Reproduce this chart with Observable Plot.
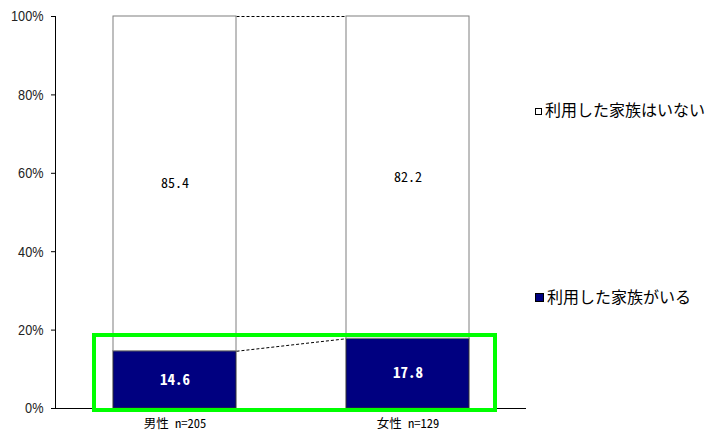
<!DOCTYPE html>
<html>
<head>
<meta charset="utf-8">
<script src="https://cdn.jsdelivr.net/npm/d3@7"></script>
<script src="https://cdn.jsdelivr.net/npm/@observablehq/plot@0.6"></script>
<style>
  body { margin: 0; background: #fff; }
  #wrap { position: relative; width: 709px; height: 435px; overflow: hidden; }
  .legend { position: absolute; left: 535px; font-family: "Noto Sans CJK JP", sans-serif; font-size: 16px; line-height: 16px; color: #000; white-space: nowrap; z-index: 2; }
  .sw { display: inline-block; border: 1px solid #000; box-sizing: border-box; margin-right: 3px; vertical-align: 1px; }
  #hl { position: absolute; left: 92px; top: 333px; width: 405px; height: 79px; border: 4px solid #00ff00; box-sizing: border-box; z-index: 3; }
  svg [aria-label^="x-axis"] text { font-family: "Noto Sans Mono CJK JP", "Noto Sans CJK JP", "DejaVu Sans Mono", monospace !important; font-size: 12.5px !important; fill: #000 !important; }
  svg [aria-label^="y-axis"] text { font-family: "Liberation Sans Narrow", "Arial Narrow", "Liberation Sans", sans-serif !important; font-size: 15.5px !important; fill: #222 !important; }
</style>
</head>
<body>
<div id="wrap"></div>
<script>
const categories = ["男性 n=205", "女性 n=129"];
const usedValues = [14.6, 17.8];        // 利用した家族がいる
const notUsedValues = [85.4, 82.2];     // 利用した家族はいない
const seriesNames = ["利用した家族はいない", "利用した家族がいる"];
const yTicks = [0, 20, 40, 60, 80, 100];

const mono = '"Noto Sans Mono CJK JP", "Noto Sans CJK JP", "DejaVu Sans Mono", monospace';

const rows = categories.map((c, i) => ({cat: c, used: usedValues[i], notUsed: notUsedValues[i]}));
const links = [
  {a: categories[0], b: categories[1], ya: usedValues[0], yb: usedValues[1]},
  {a: categories[0], b: categories[1], ya: usedValues[0] + notUsedValues[0], yb: usedValues[1] + notUsedValues[1]}
];

// move link ends from band centers to the facing bar edges
function edgeRender(index, scales, values, dimensions, context, next) {
  const x = scales.x;
  const bw = typeof x.bandwidth === "function" ? x.bandwidth() : x.bandwidth;
  const v = Object.assign({}, values, {
    x1: Array.from(values.x1, d => d + bw / 2),
    x2: Array.from(values.x2, d => d - bw / 2)
  });
  return next(index, scales, v, dimensions, context);
}

const chart = Plot.plot({
  width: 709,
  height: 435,
  marginLeft: 55,
  marginRight: 183,
  marginTop: 16,
  marginBottom: 27,
  style: {background: "white", color: "#000", fontSize: "15px", overflow: "visible"},
  x: {domain: categories, paddingInner: 0.474, paddingOuter: 0.2436, align: 0.5, label: null, tickSize: 0, tickPadding: 11},
  y: {domain: [0, 100], ticks: yTicks, tickFormat: d => d + "%", tickSize: 4, tickPadding: 8, label: null, line: true},
  marks: [
    Plot.link(links, {x1: "a", x2: "b", y1: "ya", y2: "yb", stroke: "#000", strokeWidth: 1, strokeDasharray: "3,2", render: edgeRender}),
    Plot.barY(rows, {x: "cat", y1: 0, y2: "used", fill: "#000080", stroke: "#333", strokeWidth: 1}),
    Plot.barY(rows, {x: "cat", y1: "used", y2: d => d.used + d.notUsed, fill: "#fff", stroke: "#7f7f7f", strokeWidth: 1}),
    Plot.ruleY([0], {stroke: "#000", strokeWidth: 1}),
    Plot.text(rows, {x: "cat", y: d => d.used / 2, text: d => d.used.toFixed(1), fill: "#fff", fontWeight: "bold", fontSize: 15, fontFamily: mono}),
    Plot.text(rows, {x: "cat", y: d => d.used + d.notUsed / 2, text: d => d.notUsed.toFixed(1), fill: "#000", fontSize: 14, fontFamily: mono})
  ]
});

const wrap = document.getElementById("wrap");
wrap.appendChild(chart);

// condense the y tick labels (narrow face not installed)
d3.select(chart).selectAll('[aria-label^="y-axis"] text').each(function () {
  const len = this.getComputedTextLength();
  if (len > 0) {
    this.setAttribute("textLength", (len * 0.82).toFixed(1));
    this.setAttribute("lengthAdjust", "spacingAndGlyphs");
  }
});

const hl = document.createElement("div");
hl.id = "hl";
wrap.appendChild(hl);

const legendItems = [
  {name: seriesNames[0], fill: "#fff", size: 7, top: 101},
  {name: seriesNames[1], fill: "#000080", size: 9, top: 288}
];
for (const item of legendItems) {
  const div = document.createElement("div");
  div.className = "legend";
  div.style.top = item.top + "px";
  const sw = document.createElement("span");
  sw.className = "sw";
  sw.style.width = item.size + "px";
  sw.style.height = item.size + "px";
  sw.style.background = item.fill;
  div.appendChild(sw);
  div.appendChild(document.createTextNode(item.name));
  wrap.appendChild(div);
}
</script>
</body>
</html>
